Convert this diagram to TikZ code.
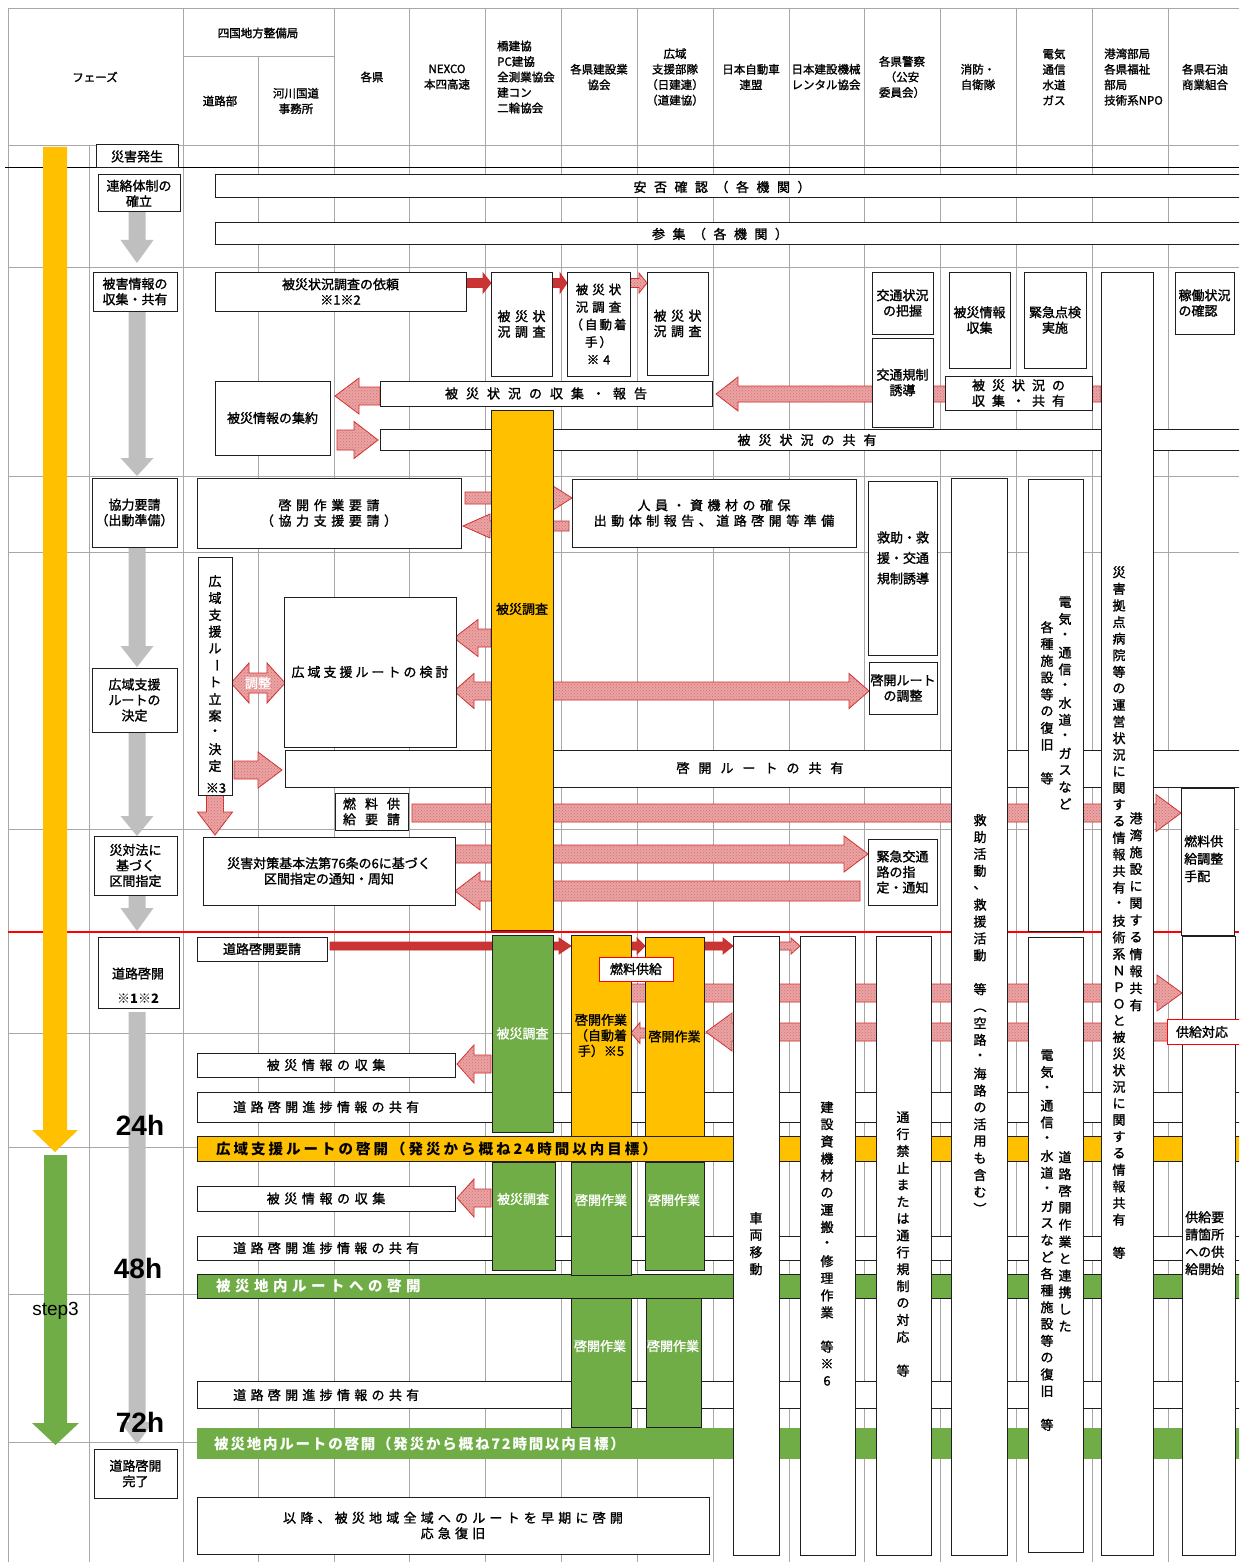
\documentclass[tikz,border=0pt]{standalone}
\usepackage{fontspec}
\setmainfont{Noto Sans CJK JP}[UprightFeatures={FakeBold=1.4}]
\newfontfamily\latinf{Liberation Sans}
\usepackage{graphicx}
\usetikzlibrary{patterns}
\definecolor{yel}{HTML}{FFC000}
\definecolor{grn}{HTML}{70AD47}
\definecolor{gry}{HTML}{BFBFBF}
\definecolor{gridc}{HTML}{A8A8A8}
\definecolor{arrf}{HTML}{E8A4A4}
\definecolor{arrd}{HTML}{D22B2B}
\definecolor{darkf}{HTML}{C93535}
\makeatletter
\newcommand\vstk[2][17]{\vbox{\offinterlineskip\@tfor\vch:=#2\do{\vbox to #1pt{\vss\hbox to 16pt{\hss\vch\hss}\vss}}}}
\newcommand\lsp[2][5]{\def\lsp@sep{}\@tfor\vch:=#2\do{\lsp@sep\vch\def\lsp@sep{\hspace{#1pt}}}}
\makeatother
\newcommand\vrot[1]{\rotatebox[origin=c]{-90}{#1}}
\newcommand\hdf{\fontsize{11.5}{15.5}\selectfont}
\newcommand\boxat[7][]{\node[box,#1,minimum width={#4-#2},minimum height={#5-#3}] (#6) at ({(#2+#4)/2},{(#3+#5)/2}) {#7};}
\newcommand\arR[7][harr]{\path[#1] (#2,#4-#5) -- (#3-#7,#4-#5) -- (#3-#7,#4-#6) -- (#3,#4) -- (#3-#7,#4+#6) -- (#3-#7,#4+#5) -- (#2,#4+#5) -- cycle;}
\newcommand\arL[7][harr]{\path[#1] (#2,#4-#5) -- (#3+#7,#4-#5) -- (#3+#7,#4-#6) -- (#3,#4) -- (#3+#7,#4+#6) -- (#3+#7,#4+#5) -- (#2,#4+#5) -- cycle;}
\newcommand\arD[7][harr]{\path[#1] (#2,#4) -- (#2+#7,#4-#6) -- (#2+#7,#4-#5) -- (#3-#7,#4-#5) -- (#3-#7,#4-#6) -- (#3,#4) -- (#3-#7,#4+#6) -- (#3-#7,#4+#5) -- (#2+#7,#4+#5) -- (#2+#7,#4+#6) -- cycle;}
\newcommand\arV[7][gyarr]{\path[#1] (#2-#5,#3) -- (#2+#5,#3) -- (#2+#5,#4-#7) -- (#2+#6,#4-#7) -- (#2,#4) -- (#2-#6,#4-#7) -- (#2-#5,#4-#7) -- cycle;}
\begin{document}
\begin{tikzpicture}[x=1pt,y=-1pt,
 every node/.style={font=\fontsize{13}{15.5}\selectfont,inner sep=0pt,align=center},
 box/.style={draw=black!88,line width=1pt,fill=white},
 yelbox/.style={fill=yel},
 grnbox/.style={fill=grn,text=white},
 grnbar/.style={fill=grn},
 nobar/.style={fill=grn,draw=none},
 redlbl/.style={draw=red,line width=1pt},
 harr/.style={fill=arrf,draw=arrd,line width=0.8pt,postaction={pattern=crosshatch dots,pattern color=arrd!70}},
 darr/.style={fill=darkf,draw=arrd,line width=0.8pt},
 yarr/.style={fill=yel},
 garr/.style={fill=grn},
 gyarr/.style={fill=gry},
 gridl/.style={draw=gridc,line width=0.9pt},
 hdr/.style={font=\hdf},
 bartxt/.style={anchor=west,font=\bfseries\fontsize{14.5}{16}\selectfont},
 hrs/.style={font=\latinf\bfseries\fontsize{28}{30}\selectfont},
 vcol/.style={anchor=north}]
\fill[white] (0,0) rectangle (1239,1562);
\useasboundingbox (0,0) rectangle (1239,1562);
\clip (0,0) rectangle (1239,1562);
% grid
\foreach \gx in {8,183,334,409,485,561,637,713,789,864,940,1016,1092,1168} \draw[gridl] (\gx,8) -- (\gx,1562);
\draw[gridl] (258,56) -- (258,1562);
\draw[gridl] (89,145) -- (89,1562);
\foreach \gy in {8,145,267,476,552,829,1033,1147,1294,1442} \draw[gridl] (8,\gy) -- (1239,\gy);
\draw[gridl] (183,56) -- (334,56);
\draw[black,line width=1pt] (5,168) -- (1239,168);
\draw[red,line width=2.5pt] (8,932) -- (1239,932);
% header
\node[hdr] (h0) at (95,77) {フェーズ};
\node[hdr] (h1) at (258,33) {四国地方整備局};
\node[hdr] (h2) at (220,101) {道路部};
\node[hdr] (h3) at (296,101) {河川国道\\事務所};
\node[hdr] (h4) at (372,77) {各県};
\node[hdr] (h5) at (447,77) {NEXCO\\本四高速};
\node[hdr,anchor=west,align=left] (h6) at (497,77) {橋建協\\PC建協\\全測業協会\\建コン\\二輪協会};
\node[hdr] (h7) at (599,77) {各県建設業\\協会};
\node[hdr] (h8) at (675,77) {広域\\支援部隊\\（日建連）\\（道建協）};
\node[hdr] (h9) at (751,77) {日本自動車\\連盟};
\node[hdr] (h10) at (826,77) {日本建設機械\\レンタル協会};
\node[hdr] (h11) at (902,77) {各県警察\\（公安\\委員会）};
\node[hdr] (h12) at (978,77) {消防・\\自衛隊};
\node[hdr] (h13) at (1054,77) {電気\\通信\\水道\\ガス};
\node[hdr,anchor=west,align=left] (h14) at (1104,77) {港湾部局\\各県福祉\\部局\\技術系NPO};
\node[hdr] (h15) at (1205,77) {各県石油\\商業組合};
% phase column
\arV[yarr]{55}{147}{1152}{12}{23}{22}
\arV[garr]{55.5}{1155}{1445}{11.5}{23.5}{22}
\arV{137}{212}{263}{8.5}{16.5}{23}
\arV{137}{311}{476}{8.5}{16.5}{18}
\arV{137}{547}{667}{8.5}{16.5}{21}
\arV{137}{732}{836}{8.5}{16.5}{20}
\arV{137}{895}{931}{8.5}{16.5}{23}
\arV{137}{1012}{1444}{8.5}{16.5}{22}
\boxat{96}{145}{178}{168}{p0}{災害発生}
\boxat{98}{175}{180}{212}{p1}{連絡体制の\\確立}
\boxat{93}{272}{177}{311}{p2}{被害情報の\\収集・共有}
\boxat{92}{478}{177}{547}{p3}{協力要請\\（出動準備）}
\boxat{92}{668}{177}{732}{p4}{広域支援\\ルートの\\決定}
\boxat{94}{836}{177}{895}{p5}{災対法に\\基づく\\区間指定}
\boxat{98}{937}{179}{1008}{p6}{}
\node (p6t) at (138,985.5) {道路啓開\\[9.5pt]\bfseries ※1※2};
\boxat{94}{1449}{177}{1498}{p7}{道路啓開\\完了}
% long horizontal boxes
\boxat{215}{175}{1250}{198}{anpi}{}
\node (anpit) at (722,187) {\lsp[7.5]{安否確認（各機関）}};
\boxat{215}{223}{1250}{245}{sanshu}{}
\node (sanshut) at (720,234) {\lsp[7.5]{参集（各機関）}};
\boxat{380}{429}{1250}{450}{kyoyu}{}
\node (kyoyut) at (807,440) {\lsp[8]{被災状況の共有}};
\boxat{285}{750}{1250}{787}{kaikyo}{}
\node (kaikyot) at (760,768) {\lsp[9]{啓開ルートの共有}};
\boxat{197}{1092}{1250}{1122}{shin1}{}
\node[anchor=west] (shin1t) at (233,1107) {\lsp[4.3]{道路啓開進捗情報の共有}};
\boxat{197}{1236}{1250}{1260}{shin2}{}
\node[anchor=west] (shin2t) at (233,1248) {\lsp[4.3]{道路啓開進捗情報の共有}};
\boxat{197}{1381}{1250}{1408}{shin3}{}
\node[anchor=west] (shin3t) at (233,1395) {\lsp[4.3]{道路啓開進捗情報の共有}};
\boxat[yelbox]{197}{1136}{1250}{1161}{bar24}{}
\node[bartxt] (bar24t) at (216,1148.5) {\lsp[3]{広域支援ルートの啓開（発災から概ね24時間以内目標）}};
\boxat[grnbar]{197}{1274}{1250}{1298}{bar48}{}
\node[bartxt,text=white] (bar48t) at (216,1286) {\lsp[4.5]{被災地内ルートへの啓開}};
\boxat[nobar]{197}{1428}{1250}{1459}{bar72}{}
\node[bartxt,text=white] (bar72t) at (214,1444) {\lsp[1.8]{被災地内ルートの啓開（発災から概ね72時間以内目標）}};
% arrows
\arR[darr]{466}{491}{283}{4.5}{10}{8}
\arR[darr]{552}{567}{283}{4.5}{10}{7}
\arR{630}{647}{283}{4.5}{10}{8}
\arL{380}{335}{396}{9}{18}{24}
\arR{337}{378}{440}{10}{18.5}{24}
\arL{1101}{716}{394}{8}{17}{22}
\arR{465}{572}{498}{6}{12}{19}
\arL{569}{463}{526}{5}{12}{27}
\arD{231}{285}{683}{10}{20}{18}
\arL{491}{454}{638}{9}{18.5}{24}
\arD{454}{869}{691}{9}{17.5}{20}
\arR{234}{282}{770}{9}{18}{24}
\arV[harr]{215}{795}{835}{8.5}{17.5}{23}
\arR{412}{1181}{813}{9}{18.5}{25}
\arR{455}{868}{854}{9}{18}{24}
\arL{860}{455}{891}{10}{19}{25}
\arR[darr]{330}{571}{946}{4}{8}{12}
\arR[darr]{631}{645}{946}{4}{8}{8}
\arR[darr]{705}{733}{946}{4}{8}{10}
\arR{779}{800}{946}{4}{8}{9}
\arR{631}{1182}{993}{9}{18}{25}
\arL{1168}{706}{1032}{9}{19}{26}
\arL{646}{631}{1033}{5}{10.5}{9}
\arL{491}{457}{1064}{9}{19}{17}
\arL{491}{457}{1198}{9}{19}{17}
\node[text=white] (chosei) at (258,683) {調整};
% boxes row 被害情報
\boxat{215}{272}{466}{311}{irai}{被災状況調査の依頼\\※1※2}
\boxat{491}{272}{552}{376}{cho1}{\lsp[4.5]{被災状}\\\lsp[4.5]{況調査}}
\boxat[font=\fontsize{12.5}{17.5}\selectfont]{567}{272}{630}{376}{cho2}{\lsp[4]{被災状}\\\lsp[4]{況調査}\\\lsp[2]{（自動着}\\\lsp[2]{手）}\\\lsp[4]{※4}}
\boxat{647}{272}{708}{375}{cho3}{\lsp[4.5]{被災状}\\\lsp[4.5]{況調査}}
\boxat{380}{381}{712}{406}{hokoku}{\lsp[8]{被災状況の収集・報告}}
\boxat{215}{381}{330}{455}{shuyaku}{被災情報の集約}
\boxat[yelbox]{491}{410}{553}{930}{ychosa}{}
\node (ychosat) at (522,609) {被災調査};
\boxat{872}{272}{933}{334}{kotsu1}{交通状況\\の把握}
\boxat{872}{338}{933}{427}{kotsu2}{交通規制\\誘導}
\boxat{949}{272}{1010}{368}{hisai}{被災情報\\収集}
\boxat{1024}{272}{1086}{368}{kinkyu}{緊急点検\\実施}
\boxat{945}{376}{1092}{410}{shukyo}{\lsp[7]{被災状況の}\\\lsp[7]{収集・共有}}
\boxat[align=left]{1175}{272}{1234}{334}{kado}{稼働状況\\の確認}
% row 協力要請
\boxat{197}{478}{461}{548}{yosei}{\lsp[4.6]{啓開作業要請}\\\lsp[4.6]{（協力支援要請）}}
\boxat{572}{479}{856}{547}{jinin}{\lsp[4.5]{人員・資機材の確保}\\\lsp[4.5]{出動体制報告、道路啓開等準備}}
\boxat{868}{481}{937}{655}{kyujo1}{}
\node[font=\fontsize{13}{20.5}\selectfont] (kyujo1t) at (903,558) {救助・救\\援・交通\\規制誘導};
\boxat{951}{478}{1007}{1555}{kyujo2}{}
\node[vcol] (kyujo2t) at (980,811.5) {\vstk[16.9]{救助活動、救援活動　等{\vrot{（}}空路・海路の活用も含む{\vrot{）}}}};
\boxat{1028}{479}{1083}{931}{denki1}{}
\node[vcol] (denki1r) at (1065,593.6) {\vstk[16.8]{電気・通信・水道・ガスなど}};
\node[vcol] (denki1l) at (1047,618.6) {\vstk[16.8]{各種施設等の復旧　等}};
\boxat{1101}{272}{1153}{1555}{kowan}{}
\node[vcol] (kowana) at (1119,563.7) {\vstk[16.6]{災害拠点病院等の運営状況に関する情報共有・技術系ＮＰＯと被災状況に関する情報共有　等}};
\node[vcol] (kowanb) at (1136,809.5) {\vstk[17]{港湾施設に関する情報共有}};
% row 広域支援
\boxat{198}{557}{232}{795}{ritsuan}{}
\node[vcol] (ritsuant) at (215,572.6) {\vstk[16.8]{広域支援ル{\vrot{ー}}ト立案・決定}};
\node (kome3) at (216,788) {※3};
\boxat{284}{597}{456}{747}{kento}{\lsp[3]{広域支援ルートの検討}}
\boxat{869}{662}{937}{714}{chosei2}{啓開ルート\\の調整}
\boxat{335}{793}{408}{830}{nenryo}{\lsp[9]{燃料供}\\\lsp[9]{給要請}}
\boxat{1181}{788}{1234}{935}{nench}{}
\node[anchor=north west,align=left,font=\fontsize{13}{17.5}\selectfont] (ncht) at (1184,835) {燃料供\\給調整\\手配};
% row 災対法
\boxat{203}{837}{455}{905}{saitai}{災害対策基本法第76条の6に基づく\\区間指定の通知・周知}
\boxat[align=left]{868}{839}{937}{905}{kinkyukotsu}{緊急交通\\路の指\\定・通知}
% row 道路啓開
\boxat{197}{937}{327}{961}{yosei2}{道路啓開要請}
\boxat[grnbox]{492}{935}{553}{1132}{gchosa1}{被災調査}
\boxat[yelbox]{571}{935}{631}{1136}{ykei1}{啓開作業\\（自動着\\手）※5}
\boxat[yelbox]{645}{937}{704}{1136}{ykei2}{啓開作業}
\boxat{197}{1053}{455}{1077}{shushu1}{\lsp[4.6]{被災情報の収集}}
\boxat{197}{1186}{455}{1211}{shushu2}{\lsp[4.6]{被災情報の収集}}
\boxat[grnbox]{492}{1162}{555}{1270}{gchosa2}{}
\node[text=white] (gchosa2t) at (523,1199) {被災調査};
\boxat[grnbox]{571}{1162}{631}{1275}{gk1}{}
\node[text=white] (gk1t) at (601,1200) {啓開作業};
\boxat[grnbox]{645}{1162}{704}{1270}{gk2}{}
\node[text=white] (gk2t) at (674,1200) {啓開作業};
\boxat[grnbox]{571}{1298}{631}{1427}{gk3}{}
\node[text=white] (gk3t) at (600,1346) {啓開作業};
\boxat[grnbox]{646}{1298}{701}{1427}{gk4}{}
\node[text=white] (gk4t) at (673,1346) {啓開作業};
\boxat{197}{1497}{709}{1554}{iko}{\lsp[4.2]{以降、被災地域全域へのルートを早期に啓開}\\\lsp[4.2]{応急復旧}}
\boxat{733}{936}{779}{1555}{sharyo}{}
\node[vcol] (sharyot) at (756,1209.5) {\vstk[17]{車両移動}};
\boxat{800}{936}{855}{1555}{kensetsu}{}
\node[vcol] (kensetsut) at (827,1098.5) {\vstk[17.1]{建設資機材の運搬・修理作業　等※6}};
\boxat{876}{936}{931}{1555}{tsuko}{}
\node[vcol] (tsukot) at (903,1108.5) {\vstk[16.9]{通行禁止または通行規制の対応　等}};
\boxat{1028}{937}{1083}{1552}{denki2}{}
\node[vcol] (denki2r) at (1065,1148.5) {\vstk[16.9]{道路啓開作業と連携した}};
\node[vcol] (denki2l) at (1047,1046.6) {\vstk[16.8]{電気・通信・水道・ガスなど各種施設等の復旧　等}};
\boxat{1182}{936}{1235}{1555}{kyok2}{}
\node[anchor=north west,align=left,font=\fontsize{13}{17.3}\selectfont] (kyok2t) at (1185,1211) {供給要\\請箇所\\への供\\給開始};
\boxat[redlbl]{599}{957}{673}{981}{nenkyu}{燃料供給}
\boxat[redlbl]{1167}{1019}{1250}{1044}{kyotai}{}
\node (kyotait) at (1202,1032) {供給対応};
% hours
\node[hrs] (h24) at (140,1125) {24h};
\node[hrs] (h48) at (138,1268) {48h};
\node[hrs] (h72) at (140,1422) {72h};
\node[font=\latinf\fontsize{19}{21}\selectfont] (step3) at (55.5,1311) {step3};
\end{tikzpicture}
\end{document}
